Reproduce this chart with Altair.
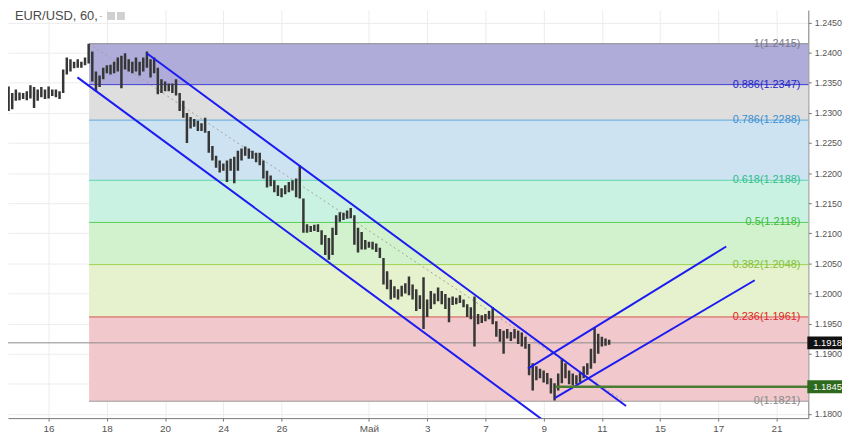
import altair as alt
import pandas as pd

# ---- price bars (3-hour steps, trading-day index 0 = 16 April) ----
bar_first_day = -1.625
bar_step_days = 0.125
bar_high = [1.2374,1.2366,1.2344,1.2333,1.2339,1.2334,1.2333,1.2336,1.2346,1.2343,
            1.2339,1.2343,1.2339,1.2344,1.2339,1.2339,1.2336,1.2372,1.2392,1.2389,
            1.2385,1.2389,1.2385,1.2392,1.2415,1.2402,1.2369,1.2362,1.2375,1.2379,
            1.2380,1.2385,1.2392,1.2395,1.2399,1.2389,1.2385,1.2392,1.2385,1.2392,
            1.2402,1.2389,1.2392,1.2375,1.2356,1.2352,1.2349,1.2349,1.2356,1.2333,
            1.2320,1.2300,1.2293,1.2290,1.2287,1.2283,1.2292,1.2270,1.2245,1.2229,
            1.2221,1.2216,1.2221,1.2224,1.2227,1.2237,1.2241,1.2244,1.2241,1.2237,
            1.2234,1.2234,1.2221,1.2204,1.2196,1.2188,1.2180,1.2175,1.2180,1.2185,
            1.2188,1.2191,1.2213,1.2158,1.2115,1.2112,1.2114,1.2115,1.2105,1.2097,
            1.2092,1.2109,1.2130,1.2135,1.2134,1.2138,1.2142,1.2130,1.2109,1.2102,
            1.2089,1.2086,1.2086,1.2083,1.2076,1.2059,1.2037,1.2023,1.2012,1.2007,
            1.2013,1.2017,1.2028,1.2015,1.2007,1.1997,1.2027,1.1990,1.2004,1.2000,
            1.2010,1.2004,1.1999,1.1993,1.1995,1.1993,1.1997,1.1990,1.1982,1.1977,
            1.1995,1.1966,1.1964,1.1966,1.1971,1.1977,1.1954,1.1941,1.1938,1.1941,
            1.1936,1.1941,1.1938,1.1935,1.1928,1.1916,1.1884,1.1879,1.1875,1.1872,
            1.1868,1.1859,1.1851,1.1867,1.1892,1.1884,1.1872,1.1867,1.1864,1.1868,
            1.1879,1.1884,1.1908,1.1944,1.1933,1.1928,1.1925,1.1923]
bar_low = [1.2356,1.2336,1.2303,1.2306,1.2320,1.2321,1.2323,1.2321,1.2324,1.2308,
           1.2320,1.2326,1.2323,1.2324,1.2328,1.2326,1.2323,1.2333,1.2364,1.2369,
           1.2374,1.2375,1.2375,1.2379,1.2382,1.2352,1.2336,1.2343,1.2356,1.2366,
           1.2364,1.2366,1.2369,1.2341,1.2372,1.2369,1.2366,1.2369,1.2362,1.2369,
           1.2375,1.2359,1.2366,1.2331,1.2333,1.2336,1.2336,1.2333,1.2329,1.2303,
           1.2292,1.2250,1.2274,1.2277,1.2270,1.2270,1.2267,1.2234,1.2221,1.2209,
           1.2201,1.2204,1.2185,1.2204,1.2183,1.2204,1.2221,1.2229,1.2224,1.2224,
           1.2218,1.2213,1.2191,1.2176,1.2178,1.2168,1.2162,1.2160,1.2165,1.2168,
           1.2171,1.2160,1.2158,1.2101,1.2101,1.2102,1.2104,1.2102,1.2081,1.2064,
           1.2056,1.2064,1.2097,1.2119,1.2122,1.2124,1.2125,1.2081,1.2068,1.2073,
           1.2073,1.2076,1.2073,1.2069,1.2059,1.2015,1.2007,1.1990,1.1993,1.1990,
           1.1995,1.2000,1.1997,1.1990,1.1971,1.1974,1.1941,1.1961,1.1974,1.1982,
           1.1987,1.1982,1.1974,1.1952,1.1981,1.1982,1.1984,1.1977,1.1961,1.1957,
           1.1912,1.1949,1.1951,1.1954,1.1957,1.1949,1.1928,1.1920,1.1900,1.1925,
           1.1921,1.1925,1.1916,1.1912,1.1908,1.1864,1.1839,1.1856,1.1859,1.1852,
           1.1849,1.1834,1.1822,1.1839,1.1851,1.1859,1.1849,1.1847,1.1849,1.1852,
           1.1859,1.1865,1.1875,1.1884,1.1900,1.1912,1.1913,1.1915]

# ---- axes ----
tick_days = [0, 2, 4, 6, 8, 11, 13, 15, 17, 19, 21, 23, 25]
tick_labels = ["16", "18", "20", "24", "26", "Май", "3", "7", "9", "11", "15", "17", "21"]
price_ticks = [1.1800, 1.1850, 1.1900, 1.1950, 1.2000, 1.2050, 1.2100, 1.2150,
               1.2200, 1.2250, 1.2300, 1.2350, 1.2400, 1.2450]
hidden_price_label = 1.1850   # covered by the 1.1845 marker in the original
x_domain = [-1.395, 26.09]
y_domain = [1.17929, 1.24709]

# ---- Fibonacci retracement ----
fib_start_day = 1.39
fib_ratio = ["1", "0.886", "0.786", "0.618", "0.5", "0.382", "0.236", "0"]
fib_price = [1.2415, 1.2347, 1.2288, 1.2188, 1.2118, 1.2048, 1.1961, 1.1821]
fib_line_color = ["#8a8a8a", "#3b3bd6", "#5aa8dc", "#5cd6ac", "#55d055", "#a0d250", "#d9534f", "#9a9a9a"]
fib_text_color = ["#77778a", "#2424c4", "#3a8ed2", "#2dbd8a", "#3aba3a", "#84c038", "#e02626", "#888888"]
fib_fill = ["#afacd9", "#dedede", "#cde3f1", "#caf2e2", "#d2f1cd", "#e6f1cd", "#f1c9cc"]

# ---- drawn lines ----
chan_d1 = [3.37, 0.99, 16.46, 17.38]
chan_p1 = [1.2399, 1.2359, 1.1875, 1.1826]
chan_d2 = [19.83, 16.94, 23.27, 24.25]
chan_p2 = [1.1813, 1.1791, 1.2078, 1.2022]
trend_d = [1.39, 19.76]
trend_p = [1.2415, 1.1821]
support_day = 17.4
support_price = 1.1845
last_price = 1.1918

FONT = "Liberation Sans"

x_label_expr = "[" + ",".join(f"'{t}'" for t in tick_labels) + "][indexof([" + \
    ",".join(str(v) for v in tick_days) + "], datum.value)]"
y_label_expr = f"abs(datum.value - {hidden_price_label}) < 0.0001 ? '' : format(datum.value, '.4f')"

x_axis = alt.Axis(values=tick_days, labelExpr=x_label_expr, grid=True, gridColor="#ececec",
                  domainColor="#777", tickColor="#777", tickSize=3, labelColor="#555",
                  labelFontSize=10, labelFont=FONT, labelPadding=2, title=None,
                  labelOverlap=False, labelFlush=False, zindex=0)
y_axis = alt.Axis(values=price_ticks, labelExpr=y_label_expr, orient="right", grid=True,
                  gridColor="#ececec", domainColor="#777", tickColor="#777", tickSize=3,
                  labelColor="#555", labelFontSize=9, labelFont=FONT, labelPadding=3,
                  title=None, labelOverlap=False, labelFlush=False, zindex=0)


def X(field):
    return alt.X(field, type="quantitative",
                 scale=alt.Scale(domain=x_domain, nice=False, zero=False), axis=x_axis)


def Y(field):
    return alt.Y(field, type="quantitative",
                 scale=alt.Scale(domain=y_domain, nice=False, zero=False), axis=y_axis)


bars = pd.DataFrame({
    "d": [bar_first_day + bar_step_days * i for i in range(len(bar_high))],
    "hi": bar_high,
    "lo": bar_low,
})

zones = pd.DataFrame({
    "x0": [fib_start_day] * 7,
    "x1": [x_domain[1]] * 7,
    "top": fib_price[:-1],
    "bot": fib_price[1:],
    "fill": fib_fill,
})

levels = pd.DataFrame({
    "x0": [fib_start_day] * 8,
    "x1": [x_domain[1]] * 8,
    "p": fib_price,
    "col": fib_line_color,
    "tcol": fib_text_color,
    "label": [f"{r}({p:.4f})" for r, p in zip(fib_ratio, fib_price)],
})

channels = pd.DataFrame({"d1": chan_d1, "p1": chan_p1, "d2": chan_d2, "p2": chan_p2})
trend = pd.DataFrame({"d1": [trend_d[0]], "p1": [trend_p[0]], "d2": [trend_d[1]], "p2": [trend_p[1]]})
support = pd.DataFrame({"d1": [support_day], "d2": [x_domain[1]], "p": [support_price]})
lastp = pd.DataFrame({"p": [last_price]})
boxes = pd.DataFrame({
    "p": [last_price, support_price],
    "col": ["#111111", "#2d6a1e"],
    "label": [f"{last_price:.4f}", f"{support_price:.4f}"],
})

zone_layer = alt.Chart(zones).mark_rect().encode(
    x=X("x0"), x2="x1", y=Y("top"), y2="bot",
    color=alt.Color("fill:N", scale=None))

level_layer = alt.Chart(levels).mark_rule(strokeWidth=1).encode(
    x=X("x0"), x2="x1", y=Y("p"), color=alt.Color("col:N", scale=None))

trend_layer = alt.Chart(trend).mark_rule(color="#a0a0a0", strokeWidth=1, strokeDash=[2, 3]).encode(
    x=X("d1"), x2="d2", y=Y("p1"), y2="p2")

last_layer = alt.Chart(lastp).mark_rule(color="#8c8c8c", strokeWidth=1).encode(
    y=Y("p"), x=alt.value(0), x2=alt.value(808))

bar_layer = alt.Chart(bars).mark_rule(color="#363636", strokeWidth=2.5, clip=True).encode(
    x=X("d"), y=Y("lo"), y2="hi")

chan_layer = alt.Chart(channels).mark_rule(color="#1c1cf0", strokeWidth=2, clip=True).encode(
    x=X("d1"), x2="d2", y=Y("p1"), y2="p2")

support_layer = alt.Chart(support).mark_rule(color="#4a7d32", strokeWidth=2.5).encode(
    x=X("d1"), x2="d2", y=Y("p"))

fib_text = alt.Chart(levels).mark_text(align="right", baseline="middle", fontSize=11, font=FONT).encode(
    x=alt.value(800), y=Y("p"), text="label:N", color=alt.Color("tcol:N", scale=None))

box_layer = alt.Chart(boxes).mark_rule(strokeWidth=13).encode(
    x=alt.value(807), x2=alt.value(842), y=Y("p"), color=alt.Color("col:N", scale=None))

box_text = alt.Chart(boxes).mark_text(align="left", baseline="middle", fontSize=9.5, font=FONT,
                                      color="white").encode(
    x=alt.value(813), y=Y("p"), text="label:N")

title_df = pd.DataFrame({"t": ["EUR/USD, 60,"]})
title_layer = alt.Chart(title_df).mark_text(align="left", baseline="top", fontSize=13,
                                            font=FONT, color="#4a4a4a").encode(
    x=alt.value(7), y=alt.value(0), text="t:N")
dash_layer = alt.Chart(pd.DataFrame({"t": ["-"]})).mark_text(
    align="left", baseline="top", fontSize=10, font=FONT, color="#b0b0b0").encode(
    x=alt.value(92), y=alt.value(1), text="t:N")
icon1 = alt.Chart(pd.DataFrame({"k": [0]})).mark_square(size=64, color="#d0d0d0", opacity=1).encode(
    x=alt.value(104), y=alt.value(6))
icon2 = alt.Chart(pd.DataFrame({"k": [1]})).mark_square(size=64, color="#d0d0d0", opacity=1).encode(
    x=alt.value(114), y=alt.value(6))

chart = alt.layer(
    zone_layer, level_layer, trend_layer, last_layer, bar_layer, chan_layer,
    support_layer, fib_text, box_layer, box_text, title_layer, dash_layer, icon1, icon2
).properties(
    width=808, height=412, autosize="none",
    padding={"left": 0, "top": 0, "right": 34, "bottom": 18},
    background="white"
).configure_view(stroke=None)

chart.save("out.html", embed_options={"renderer": "svg", "actions": False})
